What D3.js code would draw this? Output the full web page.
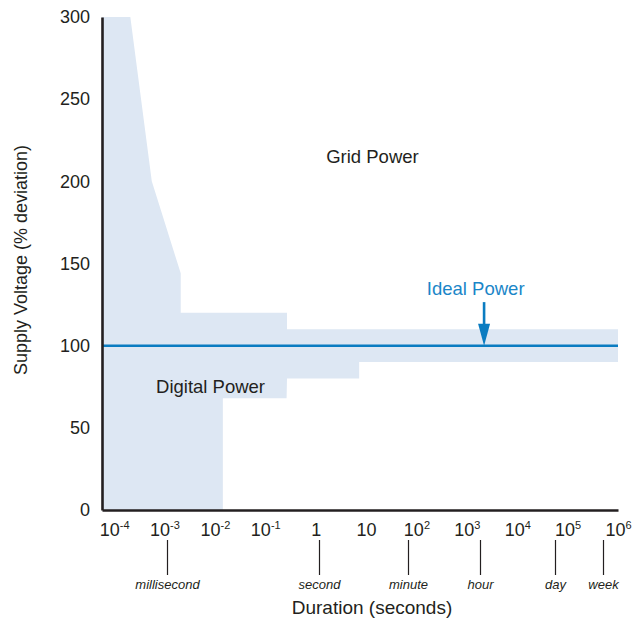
<!DOCTYPE html>
<html>
<head>
<meta charset="utf-8">
<script src="https://cdn.jsdelivr.net/npm/d3@7"></script>
<style>
  html, body { margin: 0; padding: 0; background: #fff; }
  svg { display: block; font-family: "Liberation Sans", Arial, Helvetica, sans-serif; }
</style>
</head>
<body>
<svg id="chart" width="636" height="619"></svg>
<script>
// ---------- data ----------
const xMinDur = Math.pow(10, -4.24);   // left edge of the duration axis (seconds)
const xMaxDur = 1e6;
const yTicks = [0, 50, 100, 150, 200, 250, 300];
const xTickExps = [-4, -3, -2, -1, 0, 1, 2, 3, 4, 5, 6];

// tolerance band: upper boundary (left to right) and lower boundary (right to left)
const upperDur  = [xMinDur, 2.1e-4, 5.6e-4, 2.1e-3, 2.1e-3, 0.27, 0.27, 1e6];
const upperVolt = [300,     300,    200,    144,    120,    120,  110,  110];
const lowerDur  = [1e6, 7.3, 7.3, 0.27, 0.265, 0.0144, 0.0144, xMinDur];
const lowerVolt = [90,  90,  80,  80,   68,    68,     0,      0];

const idealVolt = 100;

const unitNames = ["millisecond", "second", "minute", "hour", "day", "week"];
const unitDur   = [1.1e-3, 1.15, 68, 1800, 56000, 500000];

const labelText = ["Grid Power", "Digital Power", "Ideal Power"];
const labelDur  = [13.4, 8.2e-3, 1500];
const labelVolt = [211, 71.4, 130.8];
const arrowDur  = 2200;
const arrowFromVolt = 126.5;

// ---------- scales ----------
const svg = d3.select("#chart");
const x = d3.scaleLog().domain([xMinDur, xMaxDur]).range([102, 618]);
const y = d3.scaleLinear().domain([0, 300]).range([510, 17]);

const ink = "#231f20";
const blue = "#0a7cc1";

// ---------- band ----------
const bandPts = upperDur.map((d, i) => [d, upperVolt[i]])
  .concat(lowerDur.map((d, i) => [d, lowerVolt[i]]));
svg.append("path")
  .datum(bandPts)
  .attr("d", d3.line().x(d => x(d[0])).y(d => y(d[1])).curve(d3.curveLinearClosed))
  .attr("fill", "#dde7f3")
  .attr("stroke", "none");

// ---------- ideal line ----------
svg.append("line")
  .attr("x1", x(xMinDur)).attr("x2", x(xMaxDur))
  .attr("y1", y(idealVolt)).attr("y2", y(idealVolt))
  .attr("stroke", blue).attr("stroke-width", 2.5);

// ---------- axes ----------
const yAxis = d3.axisLeft(y).tickValues(yTicks).tickSize(0).tickPadding(12).tickFormat(d3.format("d"));
const gy = svg.append("g").attr("transform", `translate(${x(xMinDur)},0)`).call(yAxis);
gy.select(".domain").attr("stroke", ink).attr("stroke-width", 2.6);
gy.selectAll("text").attr("font-size", 18).attr("fill", ink)
  .attr("font-family", "'Liberation Sans', Arial, sans-serif");

const xAxis = d3.axisBottom(x).tickValues(xTickExps.map(e => Math.pow(10, e))).tickSize(0).tickFormat("");
const gx = svg.append("g").attr("transform", `translate(0,${y(0)})`).call(xAxis);
gx.select(".domain").attr("stroke", ink).attr("stroke-width", 2.6);
gx.selectAll(".tick text").each(function(d, i) {
  const e = xTickExps[i];
  const t = d3.select(this)
    .attr("y", 26).attr("dy", 0)
    .attr("font-size", 18).attr("fill", ink)
    .attr("font-family", "'Liberation Sans', Arial, sans-serif")
    .attr("text-anchor", "middle");
  t.text(null);
  if (e === 0) { t.append("tspan").text("1"); }
  else if (e === 1) { t.append("tspan").text("10"); }
  else {
    t.append("tspan").text("10");
    t.append("tspan").attr("font-size", 11).attr("dy", -7).text(String(e));
  }
});

// ---------- time unit markers ----------
const units = svg.append("g");
unitNames.forEach((name, i) => {
  const ux = Math.round(x(unitDur[i])) + 0.5;
  units.append("line")
    .attr("x1", ux).attr("x2", ux).attr("y1", 540).attr("y2", 575)
    .attr("stroke", ink).attr("stroke-width", 1.2);
  units.append("text")
    .attr("x", ux).attr("y", 589)
    .attr("text-anchor", "middle")
    .attr("font-size", 13).attr("font-style", "italic").attr("fill", ink)
    .text(name);
});

// ---------- titles ----------
svg.append("text")
  .attr("x", 372).attr("y", 614)
  .attr("text-anchor", "middle").attr("font-size", 19).attr("fill", ink)
  .text("Duration (seconds)");
svg.append("text")
  .attr("transform", "rotate(-90)")
  .attr("x", -260).attr("y", 27)
  .attr("text-anchor", "middle").attr("font-size", 18).attr("fill", ink)
  .text("Supply Voltage (% deviation)");

// ---------- annotations ----------
labelText.forEach((t, i) => {
  svg.append("text")
    .attr("x", x(labelDur[i])).attr("y", y(labelVolt[i]))
    .attr("text-anchor", "middle").attr("font-size", 18.5)
    .attr("fill", t === "Ideal Power" ? "#1a86c8" : ink)
    .text(t);
});

// arrow to ideal line
const ax = x(arrowDur);
svg.append("line")
  .attr("x1", ax).attr("x2", ax)
  .attr("y1", y(arrowFromVolt)).attr("y2", y(idealVolt) - 18)
  .attr("stroke", blue).attr("stroke-width", 2.6);
svg.append("path")
  .attr("d", `M${ax - 6},${y(idealVolt) - 22} L${ax + 6},${y(idealVolt) - 22} L${ax},${y(idealVolt)} Z`)
  .attr("fill", blue);
</script>
</body>
</html>
